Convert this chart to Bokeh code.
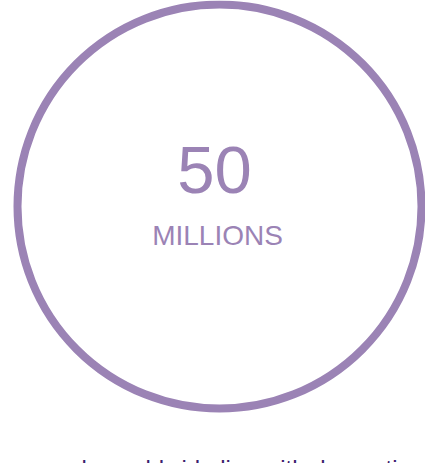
from bokeh.plotting import figure
from bokeh.models import Range1d, ColumnDataSource
from bokeh.core.properties import value
from bokeh.embed import file_html
from bokeh.resources import INLINE

# data
values = ["50"]
units = ["MILLIONS"]
captions = ["people worldwide live with dementia"]

W, H = 425, 463
ring_color = "#9b83b5"
caption_color = "#3c1e6e"

p = figure(width=W, height=H, output_backend="svg", toolbar_location=None,
           x_range=Range1d(0, W), y_range=Range1d(H, 0),
           min_border=0, outline_line_color=None, margin=(0, 0, 0, 0))
p.axis.visible = False
p.grid.visible = False
p.background_fill_color = "white"
p.border_fill_color = "white"

cx, cy, r = 219, 206, 202
p.circle(x=[cx], y=[cy], radius=r, fill_color=None,
         line_color=ring_color, line_width=8)

src_v = ColumnDataSource(dict(x=[cx - 5], y=[169], t=values))
p.text(x="x", y="y", text="t", source=src_v, text_align="center",
       text_baseline="alphabetic", text_font=value("Liberation Sans"),
       text_font_size="67px", text_color=ring_color)

src_u = ColumnDataSource(dict(x=[cx - 2], y=[235], t=units))
p.text(x="x", y="y", text="t", source=src_u, text_align="center",
       text_baseline="alphabetic", text_font=value("Liberation Sans"),
       text_font_size="28px", text_color=ring_color)

src_c = ColumnDataSource(dict(x=[cx], y=[454], t=captions))
p.text(x="x", y="y", text="t", source=src_c, text_align="center",
       text_baseline="top", text_font=value("Liberation Sans"),
       text_font_size="24px", text_color=caption_color)

open("out.html", "w").write(file_html(p, INLINE))
